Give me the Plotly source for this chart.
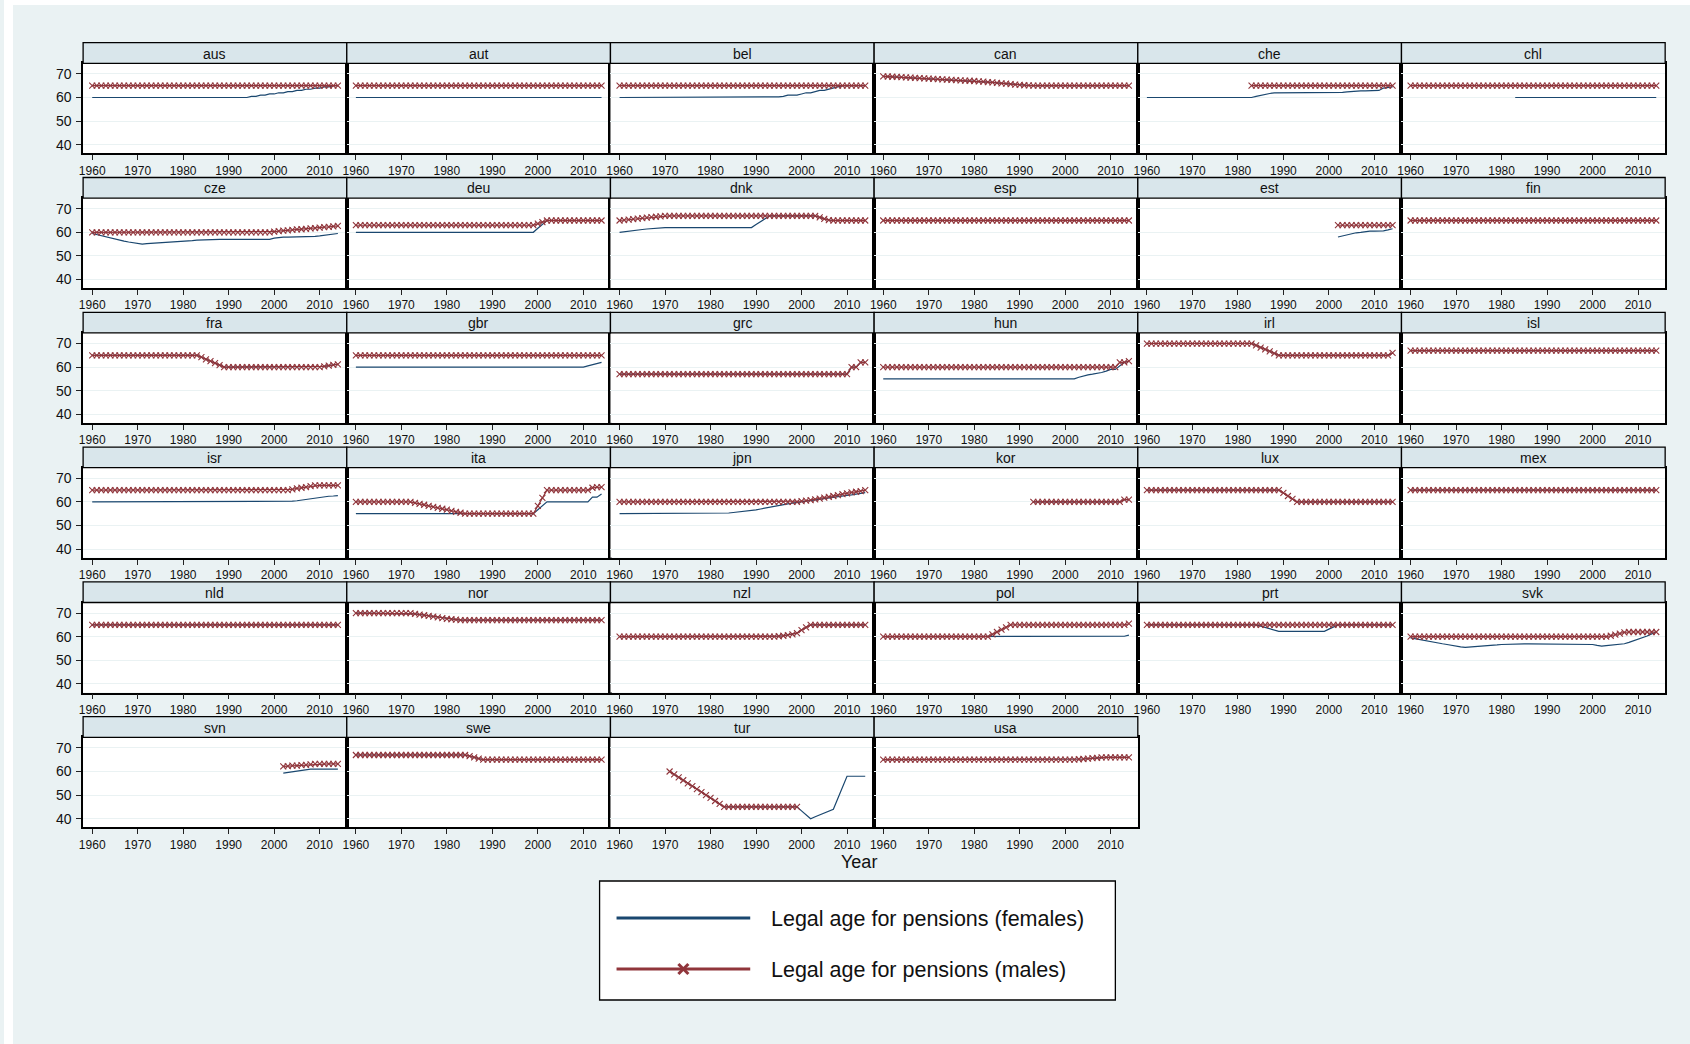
import plotly.graph_objects as go

# ---------------------------------------------------------------------------
# Legal pension age by country, 1960-2014 (females / males)
# ---------------------------------------------------------------------------
COUNTRIES = ["aus", "aut", "bel", "can", "che", "chl",
             "cze", "deu", "dnk", "esp", "est", "fin",
             "fra", "gbr", "grc", "hun", "irl", "isl",
             "isr", "ita", "jpn", "kor", "lux", "mex",
             "nld", "nor", "nzl", "pol", "prt", "svk",
             "svn", "swe", "tur", "usa"]

X_TICKS = [1960, 1970, 1980, 1990, 2000, 2010]
Y_TICKS = [40, 50, 60, 70]

aus_f = [60]*35 + [60.5, 60.5, 61, 61, 61.5, 61.5, 62, 62, 62.5, 62.5, 63, 63,
                   63.5, 63.5, 64, 64, 64.5, 64.5, 65, 65]
aus_m = [65]*55
aut_f = [60]*55
aut_m = [65]*55
bel_f = [60]*35 + [60.3, 60.5, 61, 61, 61, 61.5, 62, 62, 62.5, 63, 63, 63.5, 64, 64.5] + [65]*6
bel_m = [65]*55
can_m = [69.0, 68.9, 68.8, 68.7, 68.6, 68.5, 68.4, 68.3, 68.2, 68.1, 68.0, 67.9, 67.8,
         67.7, 67.6, 67.5, 67.4, 67.3, 67.2, 67.1, 67.0, 66.8, 66.7, 66.5, 66.4, 66.2,
         66.0, 65.9, 65.7, 65.5, 65.4, 65.2, 65.1] + [65]*22
can_f = list(can_m)
che_f = [60]*24 + [60.5, 61, 61.3, 61.7, 62] + [62]*14 + [62.2, 62.4, 62.6, 62.6, 62.8,
                                                         62.8, 62.9, 63, 63, 64, 64.3, 64.5]
che_m = [65]*32
chl_f = [60]*32
chl_m = [65]*55
cze_f = [59.5, 59, 58.5, 58, 57.5, 57, 56.7, 56.3, 55.9, 55.6, 55.3, 55, 55.2, 55.3, 55.5,
         55.6, 55.8, 56, 56.1, 56.2, 56.3, 56.4, 56.5, 56.7, 56.8, 57] + [57]*14 + \
        [57.5, 57.9, 58] + [58]*6 + [58.3, 58.5, 58.7, 59, 59.2, 59.5]
cze_m = [60]*40 + [60.3, 60.5, 60.7, 60.8, 61, 61.2, 61.3, 61.5, 61.7, 61.8, 62, 62.2,
                   62.3, 62.5, 62.7]
deu_f = [60]*40 + [61.7, 63.3, 65] + [65]*12
deu_m = [63]*40 + [63.7, 64.3, 65] + [65]*12
dnk_f = [60, 60.3, 60.6, 60.8, 61, 61.2, 61.4, 61.6, 61.8, 61.9] + [62]*20 + \
        [63.3, 64.5, 65.8, 67] + [67]*10 + [66.3, 65.7, 65.2] + [65]*8
dnk_m = [65, 65.2, 65.4, 65.6, 65.8, 66, 66.2, 66.4, 66.6, 66.8] + [67]*34 + \
        [66.3, 65.7, 65.2] + [65]*8
esp_f = [65]*55
esp_m = [65]*55
est_f = [58, 58.5, 59, 59.5, 59.8, 60, 60.3, 60.5, 60.5, 60.5, 60.6, 61, 61.5]
est_m = [63]*13
fin_f = [65]*55
fin_m = [65]*55
fra_m = [65]*24 + [64.2, 63.3, 62.5, 61.7, 60.8, 60] + [60]*21 + [60.3, 60.6, 60.9, 61.2]
fra_f = list(fra_m)
gbr_f = [60]*51 + [60.5, 61, 61.5, 62]
gbr_m = [65]*55
grc_m = [57]*51 + [60, 60, 62, 62]
grc_f = list(grc_m)
hun_f = [55]*43 + [55.7, 56.3, 56.7, 57, 57.3, 57.7, 58.3, 59, 59, 60.5, 62, 62.5]
hun_m = [60]*52 + [62, 62, 62.5]
irl_m = [70]*24 + [69.2, 68.3, 67.5, 66.7, 65.8, 65] + [65]*24 + [66]
irl_f = list(irl_m)
isl_f = [67]*55
isl_m = [67]*55
isr_f = [60]*44 + [60.3, 60.5, 60.8, 61, 61.3, 61.6, 62, 62.2, 62.4, 62.5, 62.7]
isr_m = [65]*44 + [65.3, 65.7, 66, 66.3, 66.7, 67] + [67]*5
ita_f = [55]*40 + [56.7, 58.3, 60] + [60]*9 + [62, 62, 63.3]
ita_m = [60]*13 + [59.6, 59.2, 58.8, 58.3, 57.9, 57.5, 57.1, 56.7, 56.2, 55.8, 55.4, 55] + \
        [55]*15 + [58.3, 61.7, 65] + [65]*9 + [66, 66.3, 66.3]
jpn_f = [55]*24 + [55.3, 55.5, 55.7, 55.8, 56, 56.2, 56.6, 57, 57.4, 57.9, 58.3, 58.6,
                   58.9, 59.2, 59.5, 59.8, 60, 60.3, 60.6, 60.9, 61.1, 61.4, 61.6, 61.9,
                   62.2, 62.5, 62.8, 63, 63.3, 63.6, 63.9]
jpn_m = [60]*40 + [60.3, 60.5, 60.8, 61.1, 61.4, 61.8, 62.1, 62.5, 62.9, 63.3, 63.6, 64,
                   64.3, 64.6, 65]
kor_m = [60]*20 + [61, 61]
kor_f = list(kor_m)
lux_m = [65]*30 + [63.8, 62.5, 61.3, 60] + [60]*21
lux_f = list(lux_m)
mex_f = [65]*55
mex_m = [65]*55
nld_f = [65]*55
nld_m = [65]*55
nor_m = [70]*13 + [69.7, 69.4, 69.1, 68.8, 68.5, 68.2, 67.9, 67.6, 67.4, 67.2, 67] + [67]*31
nor_f = list(nor_m)
nzl_m = [60]*35 + [60.2, 60.4, 60.7, 61, 61.5, 62.8, 64, 65] + [65]*12
nzl_f = list(nzl_m)
pol_f = [60]*53 + [60.2, 60.7]
pol_m = [60]*24 + [61, 62, 63, 64, 65] + [65]*25 + [65.5]
prt_f = [65]*25 + [64.5, 64, 63.3, 62.7, 62.3] + [62.3]*10 + [63.2, 64.1, 65] + [65]*12
prt_m = [65]*55
svk_f = [59.5, 59.1, 58.8, 58.4, 58.1, 57.7, 57.4, 57, 56.7, 56.3, 56, 55.7, 55.5, 55.6,
         55.7, 55.9, 56, 56.2, 56.4, 56.5, 56.7, 56.8, 57] + [57]*17 + \
        [56.7, 56.3, 56, 56.2, 56.4, 56.6, 56.8, 57, 57.6, 58.2, 58.8, 59.4, 60.3, 61.2, 62]
svk_m = [60]*44 + [60.4, 60.9, 61.3, 61.8, 62] + [62]*6
svn_f = [59.3, 59.6, 59.9, 60.2, 60.5, 60.8, 61] + [61]*6
svn_m = [62.2, 62.3, 62.5, 62.5, 62.7, 62.8, 63, 63.2, 63.2, 63.2, 63.2, 63.2, 63.2]
swe_m = [67]*25 + [66.5, 66, 65.5, 65] + [65]*26
swe_f = list(swe_m)
tur_m = [60, 58.8, 57.5, 56.3, 55, 53.8, 52.5, 51.3, 50, 48.8, 47.5, 46.3, 45] + [45]*16
tur_f = list(tur_m) + [43.3, 41.7, 40, 40.8, 41.6, 42.4, 43.2, 44, 48.7, 53.3, 58] + [58]*4
usa_m = [65]*43 + [65.2, 65.3, 65.5, 65.7, 65.8, 66] + [66]*6
usa_f = list(usa_m)

# first year of each series (all others begin in 1960)
SERIES_START = {("che", "m"): 1983, ("chl", "f"): 1983,
                ("est", "f"): 2002, ("est", "m"): 2002,
                ("kor", "f"): 1993, ("kor", "m"): 1993,
                ("svn", "f"): 2002, ("svn", "m"): 2002,
                ("tur", "f"): 1971, ("tur", "m"): 1971}

series = {c: {"f": globals()[c + "_f"], "m": globals()[c + "_m"]} for c in COUNTRIES}

# ---------------------------------------------------------------------------
# Layout geometry (pixels)
# ---------------------------------------------------------------------------
W, H = 1690, 1044
NCOL = 6
PLOT_L = 79.3
PANEL_W = 264.3
ROW0_TOP = 63.3
PLOT_H = 90.0
ROW_PITCH = 134.8
STRIP_H = 20.6

NAVY = "#1A476F"
MAROON = "#90353B"
BG = "#EAF2F3"
STRIP = "#D9E6EB"
FONT = "Liberation Sans, Arial, sans-serif"


def px(x):
    return x / W


def py(y):
    return 1 - y / H


fig = go.Figure()
shapes = []
annotations = []
layout_axes = {}

for i, c in enumerate(COUNTRIES):
    r, col = divmod(i, NCOL)
    n = i + 1
    xname = "x" if n == 1 else f"x{n}"
    yname = "y" if n == 1 else f"y{n}"
    x0 = PLOT_L + col * PANEL_W
    x1 = x0 + PANEL_W
    top = ROW0_TOP + r * ROW_PITCH
    bot = top + PLOT_H

    for sex, color in (("f", NAVY), ("m", MAROON)):
        vals = series[c][sex]
        start = SERIES_START.get((c, sex), 1960)
        years = list(range(start, start + len(vals)))
        if sex == "f":
            fig.add_trace(go.Scatter(
                x=years, y=vals, mode="lines",
                line=dict(color=color, width=1.2),
                xaxis=xname, yaxis=yname, showlegend=False, hoverinfo="skip"))
        else:
            fig.add_trace(go.Scatter(
                x=years, y=vals, mode="lines+markers",
                line=dict(color=color, width=1.2),
                marker=dict(symbol="x-thin-open", size=6,
                            line=dict(color=color, width=1.1), color=color),
                xaxis=xname, yaxis=yname, showlegend=False, hoverinfo="skip"))

    layout_axes["xaxis" if n == 1 else f"xaxis{n}"] = dict(
        domain=[px(x0), px(x1)], anchor=yname, range=[1958, 2015.96],
        tickvals=X_TICKS, ticks="outside", ticklen=5, tickwidth=1, tickcolor="#222",
        showline=True, linecolor="black", linewidth=1.6, mirror=True,
        showgrid=False, zeroline=False, ticklabelstandoff=0,
        tickfont=dict(family=FONT, size=12, color="#111"))
    layout_axes["yaxis" if n == 1 else f"yaxis{n}"] = dict(
        domain=[py(bot), py(top)], anchor=xname, range=[36.35, 74.5],
        tickvals=Y_TICKS, showgrid=True, gridcolor=BG, gridwidth=1,
        showticklabels=(col == 0), ticks="outside" if col == 0 else "",
        ticklen=5, tickwidth=1, tickcolor="#222",
        showline=True, linecolor="black", linewidth=1.6, mirror=True,
        zeroline=False, ticklabelstandoff=2,
        tickfont=dict(family=FONT, size=14, color="#111"))

    # facet strip with the country code
    shapes.append(dict(type="rect", xref="paper", yref="paper",
                       x0=px(x0), x1=px(x1), y0=py(top), y1=py(top - STRIP_H),
                       fillcolor=STRIP, line=dict(color="black", width=1.3),
                       layer="above"))
    annotations.append(dict(text=c, xref="paper", yref="paper",
                            x=px((x0 + x1) / 2), y=py(top - STRIP_H / 2 + 0.5),
                            xanchor="center", yanchor="middle", showarrow=False,
                            font=dict(family=FONT, size=14, color="#111")))

# white page margin at top/left
shapes.append(dict(type="rect", xref="paper", yref="paper", x0=0, x1=px(9), y0=0, y1=1,
                   fillcolor="white", line=dict(width=0), layer="below"))
shapes.append(dict(type="rect", xref="paper", yref="paper", x0=0, x1=1, y0=py(5), y1=1,
                   fillcolor="white", line=dict(width=0), layer="below"))

# shared x-axis title
annotations.append(dict(text="Year", xref="paper", yref="paper", x=px(857), y=py(862),
                        xanchor="center", yanchor="middle", showarrow=False,
                        font=dict(family=FONT, size=18, color="#111")))

# legend box
LEG_L, LEG_R, LEG_T, LEG_B = 597, 1114, 881, 1000
shapes.append(dict(type="rect", xref="paper", yref="paper",
                   x0=px(LEG_L), x1=px(LEG_R), y0=py(LEG_B), y1=py(LEG_T),
                   fillcolor="white", line=dict(color="black", width=1.3)))
legend_rows = [("Legal age for pensions (females)", NAVY, 918, False),
               ("Legal age for pensions (males)", MAROON, 969, True)]
for label, color, yy, with_marker in legend_rows:
    shapes.append(dict(type="line", xref="paper", yref="paper",
                       x0=px(614), x1=px(748), y0=py(yy), y1=py(yy),
                       line=dict(color=color, width=3)))
    if with_marker:
        mx, s = 681, 5
        shapes.append(dict(type="line", xref="paper", yref="paper",
                           x0=px(mx - s), x1=px(mx + s), y0=py(yy - s), y1=py(yy + s),
                           line=dict(color=color, width=3)))
        shapes.append(dict(type="line", xref="paper", yref="paper",
                           x0=px(mx - s), x1=px(mx + s), y0=py(yy + s), y1=py(yy - s),
                           line=dict(color=color, width=3)))
    annotations.append(dict(text=label, xref="paper", yref="paper",
                            x=px(767), y=py(yy + 1), xanchor="left", yanchor="middle",
                            showarrow=False,
                            font=dict(family=FONT, size=21.5, color="#111")))

fig.update_layout(
    width=W, height=H, margin=dict(l=0, r=0, t=0, b=0),
    paper_bgcolor=BG, plot_bgcolor="white",
    showlegend=False, shapes=shapes, annotations=annotations,
    font=dict(family=FONT),
    **layout_axes)

fig.write_html("out.html")
